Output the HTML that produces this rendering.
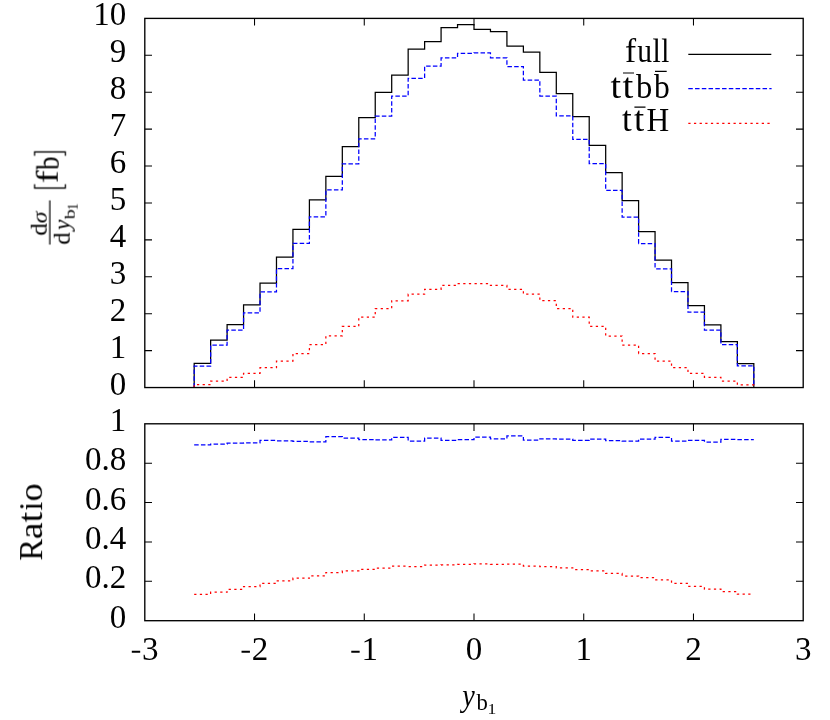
<!DOCTYPE html>
<html><head><meta charset="utf-8"><title>plot</title>
<style>html,body{margin:0;padding:0;background:#fff;}svg{display:block;}text{font-family:"Liberation Serif",serif;fill:#000;}</style>
</head><body>
<svg width="830" height="720" viewBox="0 0 830 720">
<rect x="0" y="0" width="830" height="720" fill="#fff"/>
<path d="M254.53 387.55 V380.35 M254.53 18.4 V25.60 M254.53 620.7 V613.50 M254.53 423.8 V431.00 M364.27 387.55 V380.35 M364.27 18.4 V25.60 M364.27 620.7 V613.50 M364.27 423.8 V431.00 M474.00 387.55 V380.35 M474.00 18.4 V25.60 M474.00 620.7 V613.50 M474.00 423.8 V431.00 M583.73 387.55 V380.35 M583.73 18.4 V25.60 M583.73 620.7 V613.50 M583.73 423.8 V431.00 M693.47 387.55 V380.35 M693.47 18.4 V25.60 M693.47 620.7 V613.50 M693.47 423.8 V431.00 M144.8 350.63 H152.00 M803.2 350.63 H796.00 M144.8 313.72 H152.00 M803.2 313.72 H796.00 M144.8 276.81 H152.00 M803.2 276.81 H796.00 M144.8 239.89 H152.00 M803.2 239.89 H796.00 M144.8 202.97 H152.00 M803.2 202.97 H796.00 M144.8 166.06 H152.00 M803.2 166.06 H796.00 M144.8 129.14 H152.00 M803.2 129.14 H796.00 M144.8 92.23 H152.00 M803.2 92.23 H796.00 M144.8 55.31 H152.00 M803.2 55.31 H796.00 M144.8 581.32 H152.00 M803.2 581.32 H796.00 M144.8 541.94 H152.00 M803.2 541.94 H796.00 M144.8 502.56 H152.00 M803.2 502.56 H796.00 M144.8 463.18 H152.00 M803.2 463.18 H796.00" fill="none" stroke="#000" stroke-width="1.05"/>
<path d="M194.18 387.55 L194.18 363.30 L210.64 363.30 L210.64 340.00 L227.10 340.00 L227.10 324.50 L243.56 324.50 L243.56 304.90 L260.02 304.90 L260.02 283.20 L276.48 283.20 L276.48 257.10 L292.94 257.10 L292.94 229.30 L309.40 229.30 L309.40 199.90 L325.86 199.90 L325.86 176.30 L342.32 176.30 L342.32 146.60 L358.78 146.60 L358.78 117.70 L375.24 117.70 L375.24 92.30 L391.70 92.30 L391.70 75.00 L408.16 75.00 L408.16 49.00 L424.62 49.00 L424.62 41.60 L441.08 41.60 L441.08 27.70 L457.54 27.70 L457.54 24.50 L474.00 24.50 L474.00 29.30 L490.46 29.30 L490.46 31.50 L506.92 31.50 L506.92 46.00 L523.38 46.00 L523.38 52.10 L539.84 52.10 L539.84 72.40 L556.30 72.40 L556.30 93.60 L572.76 93.60 L572.76 116.70 L589.22 116.70 L589.22 145.40 L605.68 145.40 L605.68 172.50 L622.14 172.50 L622.14 200.60 L638.60 200.60 L638.60 231.70 L655.06 231.70 L655.06 260.10 L671.52 260.10 L671.52 282.60 L687.98 282.60 L687.98 305.60 L704.44 305.60 L704.44 324.80 L720.90 324.80 L720.90 341.70 L737.36 341.70 L737.36 363.60 L753.82 363.60 L753.82 387.55" fill="none" stroke="#000" stroke-width="1.25" stroke-linejoin="miter"/>
<path d="M194.18 387.55 L194.18 366.10 L210.64 366.10 L210.64 345.00 L227.10 345.00 L227.10 330.20 L243.56 330.20 L243.56 312.80 L260.02 312.80 L260.02 291.90 L276.48 291.90 L276.48 268.60 L292.94 268.60 L292.94 243.30 L309.40 243.30 L309.40 216.80 L325.86 216.80 L325.86 189.80 L342.32 189.80 L342.32 163.80 L358.78 163.80 L358.78 138.80 L375.24 138.80 L375.24 116.20 L391.70 116.20 L391.70 96.00 L408.16 96.00 L408.16 78.30 L424.62 78.30 L424.62 66.00 L441.08 66.00 L441.08 57.80 L457.54 57.80 L457.54 53.30 L474.00 53.30 L474.00 52.90 L490.46 52.90 L490.46 57.80 L506.92 57.80 L506.92 66.50 L523.38 66.50 L523.38 80.00 L539.84 80.00 L539.84 96.00 L556.30 96.00 L556.30 115.90 L572.76 115.90 L572.76 139.40 L589.22 139.40 L589.22 163.70 L605.68 163.70 L605.68 190.40 L622.14 190.40 L622.14 217.10 L638.60 217.10 L638.60 243.50 L655.06 243.50 L655.06 268.75 L671.52 268.75 L671.52 291.60 L687.98 291.60 L687.98 312.20 L704.44 312.20 L704.44 330.20 L720.90 330.20 L720.90 344.70 L737.36 344.70 L737.36 365.80 L753.82 365.80 L753.82 387.55" fill="none" stroke="#0000ff" stroke-width="1.25" stroke-dasharray="4.5 2.25"/>
<path d="M194.18 387.55 L194.18 384.70 L210.64 384.70 L210.64 381.00 L227.10 381.00 L227.10 377.40 L243.56 377.40 L243.56 373.30 L260.02 373.30 L260.02 367.70 L276.48 367.70 L276.48 361.10 L292.94 361.10 L292.94 353.50 L309.40 353.50 L309.40 344.60 L325.86 344.60 L325.86 335.80 L342.32 335.80 L342.32 326.40 L358.78 326.40 L358.78 317.20 L375.24 317.20 L375.24 308.50 L391.70 308.50 L391.70 300.80 L408.16 300.80 L408.16 294.20 L424.62 294.20 L424.62 289.30 L441.08 289.30 L441.08 285.40 L457.54 285.40 L457.54 283.70 L474.00 283.70 L474.00 283.70 L490.46 283.70 L490.46 285.40 L506.92 285.40 L506.92 289.30 L523.38 289.30 L523.38 294.20 L539.84 294.20 L539.84 300.70 L556.30 300.70 L556.30 308.50 L572.76 308.50 L572.76 317.10 L589.22 317.10 L589.22 326.30 L605.68 326.30 L605.68 336.00 L622.14 336.00 L622.14 345.00 L638.60 345.00 L638.60 353.50 L655.06 353.50 L655.06 361.20 L671.52 361.20 L671.52 367.60 L687.98 367.60 L687.98 373.40 L704.44 373.40 L704.44 377.40 L720.90 377.40 L720.90 381.00 L737.36 381.00 L737.36 384.80 L753.82 384.80 L753.82 387.55" fill="none" stroke="#ff0000" stroke-width="1.25" stroke-dasharray="2.26 3.39"/>
<path d="M194.18 444.95 L210.64 444.95 L210.64 444.10 L227.10 444.10 L227.10 443.10 L243.56 443.10 L243.56 442.90 L260.02 442.90 L260.02 440.40 L276.48 440.40 L276.48 440.80 L292.94 440.80 L292.94 441.40 L309.40 441.40 L309.40 441.85 L325.86 441.85 L325.86 436.65 L342.32 436.65 L342.32 438.05 L358.78 438.05 L358.78 439.50 L375.24 439.50 L375.24 439.95 L391.70 439.95 L391.70 437.45 L408.16 437.45 L408.16 441.00 L424.62 441.00 L424.62 438.00 L441.08 438.00 L441.08 440.40 L457.54 440.40 L457.54 439.70 L474.00 439.70 L474.00 437.00 L490.46 437.00 L490.46 438.80 L506.92 438.80 L506.92 435.85 L523.38 435.85 L523.38 440.20 L539.84 440.20 L539.84 438.85 L556.30 438.85 L556.30 439.10 L572.76 439.10 L572.76 440.40 L589.22 440.40 L589.22 439.00 L605.68 439.00 L605.68 440.55 L622.14 440.55 L622.14 441.10 L638.60 441.10 L638.60 439.00 L655.06 439.00 L655.06 437.35 L671.52 437.35 L671.52 441.00 L687.98 441.00 L687.98 440.30 L704.44 440.30 L704.44 442.00 L720.90 442.00 L720.90 439.30 L737.36 439.30 L737.36 439.50 L753.82 439.50" fill="none" stroke="#0000ff" stroke-width="1.25" stroke-dasharray="4.5 2.25"/>
<path d="M194.18 594.40 L210.64 594.40 L210.64 592.20 L227.10 592.20 L227.10 589.30 L243.56 589.30 L243.56 586.60 L260.02 586.60 L260.02 583.30 L276.48 583.30 L276.48 580.80 L292.94 580.80 L292.94 578.20 L309.40 578.20 L309.40 575.90 L325.86 575.90 L325.86 572.60 L342.32 572.60 L342.32 570.80 L358.78 570.80 L358.78 569.30 L375.24 569.30 L375.24 568.00 L391.70 568.00 L391.70 566.20 L408.16 566.20 L408.16 566.50 L424.62 566.50 L424.62 565.00 L441.08 565.00 L441.08 564.90 L457.54 564.90 L457.54 564.40 L474.00 564.40 L474.00 563.90 L490.46 563.90 L490.46 564.30 L506.92 564.30 L506.92 564.10 L523.38 564.10 L523.38 566.00 L539.84 566.00 L539.84 566.50 L556.30 566.50 L556.30 567.80 L572.76 567.80 L572.76 569.50 L589.22 569.50 L589.22 570.90 L605.68 570.90 L605.68 573.40 L622.14 573.40 L622.14 576.00 L638.60 576.00 L638.60 577.60 L655.06 577.60 L655.06 579.90 L671.52 579.90 L671.52 583.30 L687.98 583.30 L687.98 586.40 L704.44 586.40 L704.44 589.00 L720.90 589.00 L720.90 591.50 L737.36 591.50 L737.36 594.20 L753.82 594.20" fill="none" stroke="#ff0000" stroke-width="1.25" stroke-dasharray="2.26 3.39"/>
<path d="M688.3 54.4 H771.3" stroke="#000" stroke-width="1.25" fill="none"/>
<path d="M688.3 88.65 H771.6" stroke="#0000ff" stroke-width="1.25" stroke-dasharray="4.5 2.25" fill="none"/>
<path d="M688.3 123.35 H771.3" stroke="#ff0000" stroke-width="1.25" stroke-dasharray="2.26 3.39" fill="none"/>
<rect x="144.8" y="18.4" width="658.40" height="369.15" fill="none" stroke="#000" stroke-width="1.35"/>
<rect x="144.8" y="423.8" width="658.40" height="196.90" fill="none" stroke="#000" stroke-width="1.35"/>
<g opacity="0.999">
<text x="126.2" y="394.65" font-size="33" text-anchor="end">0</text>
<text x="126.2" y="357.66" font-size="33" text-anchor="end">1</text>
<text x="126.2" y="320.66" font-size="33" text-anchor="end">2</text>
<text x="126.2" y="283.67" font-size="33" text-anchor="end">3</text>
<text x="126.2" y="246.67" font-size="33" text-anchor="end">4</text>
<text x="126.2" y="209.67" font-size="33" text-anchor="end">5</text>
<text x="126.2" y="172.68" font-size="33" text-anchor="end">6</text>
<text x="126.2" y="135.69" font-size="33" text-anchor="end">7</text>
<text x="126.2" y="98.69" font-size="33" text-anchor="end">8</text>
<text x="126.2" y="61.69" font-size="33" text-anchor="end">9</text>
<text x="126.2" y="24.70" font-size="33" text-anchor="end">10</text>
<text x="126.2" y="627.70" font-size="33" text-anchor="end">0</text>
<text x="126.2" y="588.32" font-size="33" text-anchor="end">0.2</text>
<text x="126.2" y="548.94" font-size="33" text-anchor="end">0.4</text>
<text x="126.2" y="509.56" font-size="33" text-anchor="end">0.6</text>
<text x="126.2" y="470.18" font-size="33" text-anchor="end">0.8</text>
<text x="126.2" y="430.80" font-size="33" text-anchor="end">1</text>
<text x="142.05" y="659.6" font-size="33">3</text>
<text x="251.78" y="659.6" font-size="33">2</text>
<text x="361.52" y="659.6" font-size="33">1</text>
<text x="474.00" y="659.6" font-size="33" text-anchor="middle">0</text>
<text x="583.73" y="659.6" font-size="33" text-anchor="middle">1</text>
<text x="693.47" y="659.6" font-size="33" text-anchor="middle">2</text>
<text x="803.20" y="659.6" font-size="33" text-anchor="middle">3</text>
<path d="M131.80 651.8 H140.20 M241.53 651.8 H249.93 M351.27 651.8 H359.67" stroke="#000" stroke-width="1.9" fill="none"/>
<text transform="translate(624.90 61.60) scale(1.019 1)" font-size="32.77">f</text>
<text transform="translate(637.23 61.80) scale(0.896 1)" font-size="33.00">u</text>
<text transform="translate(652.50 61.60) scale(0.909 1)" font-size="32.88">l</text>
<text transform="translate(661.32 61.60) scale(0.884 1)" font-size="32.88">l</text>
<text transform="translate(610.62 97.80) scale(1.066 1)" font-size="35.75">t</text>
<text transform="translate(622.61 97.80) scale(1.087 1)" font-size="35.75">t</text>
<text transform="translate(636.10 97.80) scale(0.991 1)" font-size="32.95">b</text>
<text transform="translate(654.10 97.80) scale(0.958 1)" font-size="32.95">b</text>
<text transform="translate(621.95 131.30) scale(0.961 1)" font-size="36.46">t</text>
<text transform="translate(634.03 131.30) scale(1.003 1)" font-size="36.46">t</text>
<text transform="translate(646.54 131.00) scale(0.940 1)" font-size="33.44">H</text>
<path d="M623 73 H634 M655 71.3 H666.7 M634.4 107.2 H645.5" stroke="#000" stroke-width="1.2" fill="none"/>
<g transform="translate(42.1 522.4) rotate(-90)">
<text transform="translate(-38.20 0.00) scale(0.941 1)" font-size="34.66">R</text>
<text transform="translate(-16.81 0.20) scale(1.135 1)" font-size="33.00">a</text>
<text transform="translate(0.12 0.20) scale(1.066 1)" font-size="35.75">t</text>
<text transform="translate(11.66 0.00) scale(0.966 1)" font-size="33.21">i</text>
<text transform="translate(20.94 0.20) scale(1.098 1)" font-size="33.00">o</text>
</g>
<g transform="translate(58.7 222.5) rotate(-90)">
<path d="M-22.1 -8.8 H22.1" stroke="#000" stroke-width="1.3" fill="none"/>
<text transform="translate(-13.28 -12.10) scale(1.068 1)" font-size="23.60">d</text>
<text transform="translate(-0.81 -12.10) scale(1.112 1)" font-size="21.26" font-style="italic">σ</text>
<text transform="translate(-22.37 11.10) scale(1.055 1)" font-size="23.45">d</text>
<text transform="translate(-7.58 10.63) scale(1.029 1)" font-size="22.67" font-style="italic">y</text>
<text transform="translate(3.30 15.90) scale(1.344 1)" font-size="14.96">b</text>
<text transform="translate(12.28 18.70) scale(0.956 1)" font-size="14.55">1</text>
<text transform="translate(39.14 -0.70) scale(1.186 1)" font-size="32.62">f</text>
<text transform="translate(52.50 -0.50) scale(0.831 1)" font-size="32.52">b</text>
<path d="M38.3 -24.1 H34.45 V6.65 H38.3 M66.7 -24.1 H70.55 V6.65 H66.7" stroke="#000" stroke-width="1.4" fill="none"/>
</g>
<text transform="translate(462.33 705.67) scale(0.917 1)" font-size="30.81" font-style="italic">y</text>
<text transform="translate(476.50 710.40) scale(0.980 1)" font-size="23.17">b</text>
<text transform="translate(487.46 713.80) scale(1.138 1)" font-size="15.45">1</text>
</g>
</svg></body></html>
